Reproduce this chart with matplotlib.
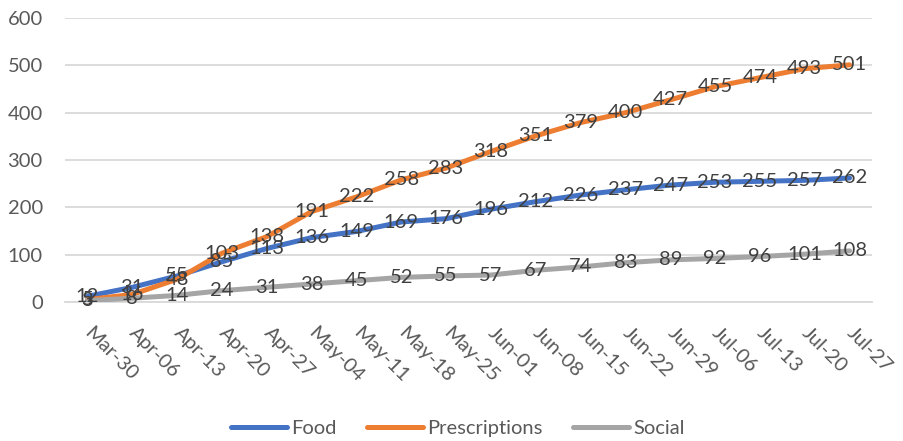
import matplotlib.pyplot as plt
import numpy as np

plt.rcParams["font.family"] = ["Lato", "DejaVu Sans"]

weeks = ["Mar-30", "Apr-06", "Apr-13", "Apr-20", "Apr-27", "May-04", "May-11", "May-18",
         "May-25", "Jun-01", "Jun-08", "Jun-15", "Jun-22", "Jun-29", "Jul-06", "Jul-13",
         "Jul-20", "Jul-27"]
food = [12, 31, 55, 85, 113, 136, 149, 169, 176, 196, 212, 226, 237, 247, 253, 255, 257, 262]
prescriptions = [5, 16, 48, 103, 138, 191, 222, 258, 283, 318, 351, 379, 400, 427, 455, 474, 493, 501]
social = [3, 8, 14, 24, 31, 38, 45, 52, 55, 57, 67, 74, 83, 89, 92, 96, 101, 108]

series = [
    ("Food", food, "#4472c4"),
    ("Prescriptions", prescriptions, "#ed7d31"),
    ("Social", social, "#a5a5a5"),
]

fig = plt.figure(figsize=(9.04, 4.41), dpi=100)
ax = fig.add_axes([65 / 904, 1 - 302 / 441, (872 - 65) / 904, (302 - 18) / 441])

x = np.arange(len(weeks))
for name, vals, color in series:
    ax.plot(x, vals, color=color, lw=3.6, label=name, solid_capstyle="round", zorder=3)
for name, vals, color in series:
    for xi, v in zip(x, vals):
        ax.text(xi, v, str(v), ha="center", va="center", fontsize=14.5,
                color="#404040", zorder=5)

ax.set_xlim(-0.5, len(weeks) - 0.5)
ax.set_ylim(0, 600)
ax.set_yticks(range(0, 601, 100))
ax.grid(axis="y", color="#d9d9d9", lw=1.3, zorder=0)
for side in ["top", "right", "left"]:
    ax.spines[side].set_visible(False)
ax.spines["bottom"].set_color("#d9d9d9")
ax.spines["bottom"].set_linewidth(1.3)
ax.tick_params(axis="y", length=0, pad=16, labelsize=14.5, labelcolor="#595959")
ax.tick_params(axis="x", length=0, pad=20, labelsize=14.5, labelcolor="#595959")
ax.set_xticks(x)
ax.set_xticklabels(weeks, rotation=-45, ha="left", va="center", rotation_mode="anchor")

fig.legend(loc="center", bbox_to_anchor=(458 / 904, 1 - 428 / 441), ncol=3, frameon=False,
           fontsize=14.5, labelcolor="#595959", handlelength=2.8, handletextpad=0.2,
           columnspacing=1.5)

fig.savefig("out.png", dpi=100)
